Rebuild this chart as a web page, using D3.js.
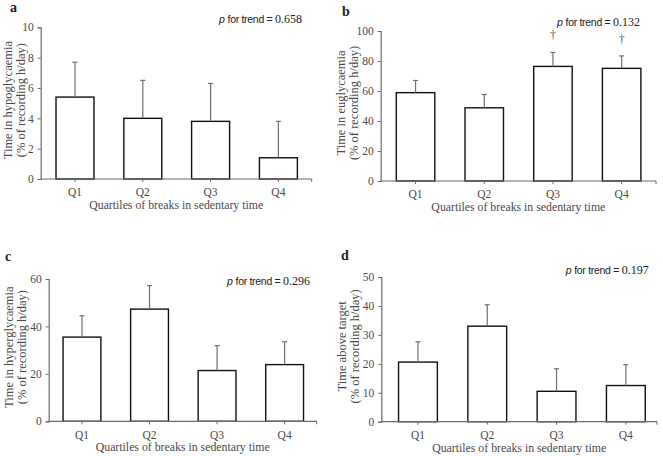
<!DOCTYPE html>
<html>
<head>
<meta charset="utf-8">
<script src="https://cdn.jsdelivr.net/npm/d3@7"></script>
<style>
  html, body { margin: 0; padding: 0; background: #fff; }
  svg { display: block; }
</style>
</head>
<body>
<svg id="chart" width="663" height="456"></svg>
<script>
// ---------- data ----------
const categories = ["Q1", "Q2", "Q3", "Q4"];
const panelLabels = ["a", "b", "c", "d"];
const xTitle = "Quartiles of breaks in sedentary time";
const yTitles = [
  ["Time in hypoglycaemia", "(% of recording h/day)"],
  ["Time in euglycaemia", "(% of recording h/day)"],
  ["Time in hyperglycaemia", "(% of recording h/day)"],
  ["Time above target", "(% of recording h/day)"]
];
const pTrend = ["0.658", "0.132", "0.296", "0.197"];

const hypoMean = [5.4, 4.0, 3.8, 1.4];
const hypoUpper = [7.7, 6.5, 6.3, 3.8];
const euMean = [58.9, 48.8, 76.4, 75.1];
const euUpper = [67.0, 57.7, 85.7, 83.4];
const hyperMean = [35.5, 47.3, 21.4, 23.9];
const hyperUpper = [44.5, 57.2, 31.9, 33.5];
const aboveMean = [20.6, 33.0, 10.5, 12.5];
const aboveUpper = [27.6, 40.4, 18.3, 19.7];
const euDagger = [false, false, true, true];
const noDagger = [false, false, false, false];

const yTicksA = [0, 2, 4, 6, 8, 10];
const yTicksB = [0, 20, 40, 60, 80, 100];
const yTicksC = [0, 20, 40, 60];
const yTicksD = [0, 10, 20, 30, 40, 50];

// ---------- layout (pixels) ----------
const panels = [
  { mean: hypoMean, upper: hypoUpper, dagger: noDagger, ticks: yTicksA,
    axisX: 40.7, xr: [41.1, 312.3], axisEnd: 311.7, yr: [179, 27.3],
    titleX: 8, labelPos: [10, 12], pPos: [302, 23] },
  { mean: euMean, upper: euUpper, dagger: euDagger, ticks: yTicksB,
    axisX: 380.7, xr: [381.2, 656], axisEnd: 656, yr: [181, 31],
    titleX: 341, labelPos: [342, 16], pPos: [640, 25.5] },
  { mean: hyperMean, upper: hyperUpper, dagger: noDagger, ticks: yTicksC,
    axisX: 48.7, xr: [48.2, 318.4], axisEnd: 316.7, yr: [421.3, 279],
    titleX: 9, labelPos: [5, 261], pPos: [310, 285] },
  { mean: aboveMean, upper: aboveUpper, dagger: noDagger, ticks: yTicksD,
    axisX: 381.3, xr: [383.3, 660.5], axisEnd: 657, yr: [421.7, 277],
    titleX: 342, labelPos: [341, 260], pPos: [648.7, 274] }
];

const serif = "'Liberation Serif', 'Times New Roman', serif";
const sans = "'Liberation Sans', Arial, sans-serif";
const axisColor = "#6b6b6b";
const textColor = "#4a4a4a";

const svg = d3.select("#chart");

panels.forEach((p, i) => {
  const g = svg.append("g");
  const x = d3.scaleBand().domain(categories).range(p.xr)
    .paddingInner(0.44).paddingOuter(0.22);
  const yMax = p.ticks[p.ticks.length - 1];
  const y = d3.scaleLinear().domain([0, yMax]).range(p.yr);

  // bars
  g.selectAll("rect.bar").data(categories).enter().append("rect")
    .attr("x", d => x(d))
    .attr("y", (d, j) => y(p.mean[j]))
    .attr("width", x.bandwidth())
    .attr("height", (d, j) => y(0) - y(p.mean[j]))
    .attr("fill", "#fff")
    .attr("stroke", "#111")
    .attr("stroke-width", 1.4);

  // error bars (upper only)
  const eb = g.selectAll("g.err").data(categories).enter().append("g")
    .attr("stroke", "#6f6f6f").attr("stroke-width", 1.2);
  eb.append("line")
    .attr("x1", d => x(d) + x.bandwidth() / 2)
    .attr("x2", d => x(d) + x.bandwidth() / 2)
    .attr("y1", (d, j) => y(p.mean[j]))
    .attr("y2", (d, j) => y(p.upper[j]));
  eb.append("line")
    .attr("x1", d => x(d) + x.bandwidth() / 2 - 2.5)
    .attr("x2", d => x(d) + x.bandwidth() / 2 + 2.5)
    .attr("y1", (d, j) => y(p.upper[j]))
    .attr("y2", (d, j) => y(p.upper[j]));

  // daggers
  g.selectAll("text.dag").data(categories.filter((d, j) => p.dagger[j])).enter()
    .append("text")
    .attr("x", d => x(d) + x.bandwidth() / 2)
    .attr("y", d => y(p.upper[categories.indexOf(d)]) - 13)
    .attr("text-anchor", "middle")
    .attr("font-family", serif).attr("font-size", 12).attr("fill", "#555")
    .text("\u2020");

  // y axis
  const yAxis = d3.axisLeft(y).tickValues(p.ticks).tickSizeOuter(0).tickSize(3).tickPadding(4);
  const ya = g.append("g").attr("transform", `translate(${p.axisX},0)`).call(yAxis);
  ya.select(".domain").attr("stroke", axisColor).attr("stroke-width", 1.2);
  ya.selectAll(".tick line").attr("stroke", axisColor);
  ya.selectAll(".tick text").attr("font-family", serif).attr("font-size", 11.5).attr("fill", textColor);

  // x axis
  const xAxis = d3.axisBottom(x).tickSizeOuter(0).tickSize(3).tickPadding(4);
  const xa = g.append("g").attr("transform", `translate(0,${p.yr[0]})`).call(xAxis);
  xa.select(".domain").remove();
  xa.append("line").attr("x1", p.axisX).attr("x2", p.axisEnd)
    .attr("stroke", axisColor).attr("stroke-width", 1.2);
  xa.append("line").attr("x1", p.axisEnd).attr("x2", p.axisEnd).attr("y2", 3)
    .attr("stroke", axisColor);
  xa.selectAll(".tick line").attr("stroke", axisColor);
  xa.selectAll(".tick text").attr("font-family", serif).attr("font-size", 11.5)
    .attr("fill", textColor).attr("dy", "0.9em");

  // x title
  g.append("text")
    .attr("x", (p.axisX + p.axisEnd) / 2)
    .attr("y", p.yr[0] + 30)
    .attr("text-anchor", "middle")
    .attr("font-family", serif).attr("font-size", 11.8).attr("fill", textColor)
    .text(xTitle);

  // y title (two lines)
  const cy = (p.yr[0] + p.yr[1]) / 2 - 3;
  yTitles[i].forEach((t, k) => {
    g.append("text")
      .attr("transform", `translate(${p.titleX + k * 12.5},${cy}) rotate(-90)`)
      .attr("text-anchor", "middle")
      .attr("dy", "0.35em")
      .attr("font-family", serif).attr("font-size", 12.5).attr("fill", textColor)
      .text(t);
  });

  // panel label
  g.append("text")
    .attr("x", p.labelPos[0]).attr("y", p.labelPos[1])
    .attr("font-family", serif).attr("font-size", 14).attr("font-weight", "bold")
    .attr("fill", "#222")
    .text(panelLabels[i]);

  // p for trend
  const pt = g.append("text")
    .attr("x", p.pPos[0]).attr("y", p.pPos[1])
    .attr("text-anchor", "end")
    .attr("fill", "#222");
  pt.append("tspan").attr("font-family", sans).attr("font-style", "italic").attr("font-size", 10.5).text("p");
  pt.append("tspan").attr("font-family", sans).attr("font-size", 10.5)
    .attr("letter-spacing", -0.3).text(" for trend = ");
  pt.append("tspan").attr("font-family", serif).attr("font-size", 12).text(pTrend[i]);
});
</script>
</body>
</html>
